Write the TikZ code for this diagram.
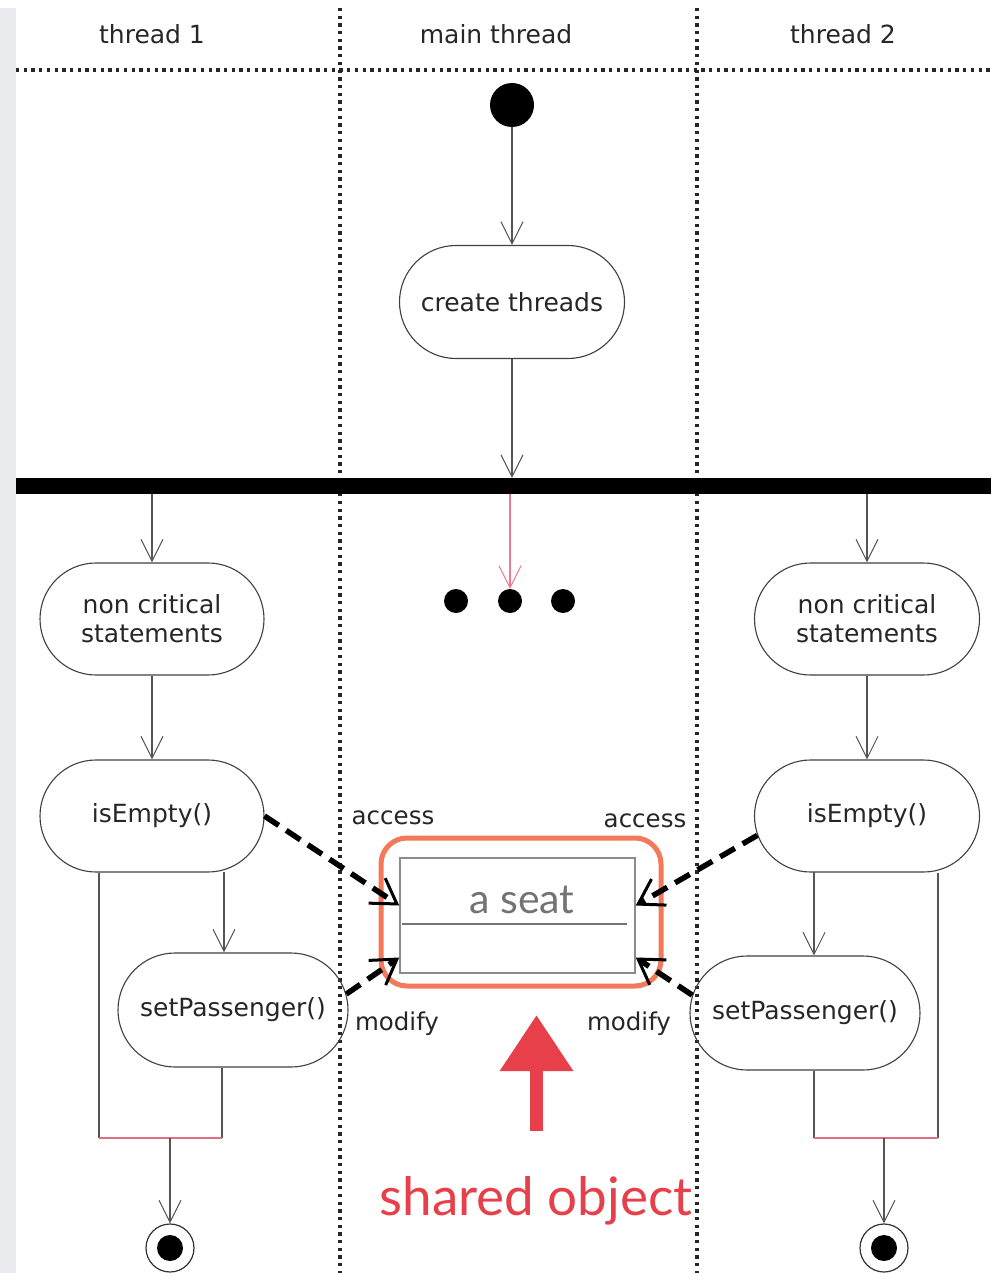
\documentclass[tikz,border=0pt]{standalone}
\usepackage{fontspec}
\setmainfont{DejaVu Sans}
\newfontfamily\gillfont{Lato}
\usetikzlibrary{shapes.misc,arrows.meta,calc}

\definecolor{lanegray}{HTML}{E9EBEE}
\definecolor{edgegray}{HTML}{555555}
\definecolor{coral}{HTML}{F4785A}
\definecolor{alertred}{HTML}{E8404A}
\definecolor{forkpink}{HTML}{F07A8E}
\definecolor{mergepink}{HTML}{E07080}

\tikzset{
  pill/.style={rounded rectangle, draw=black!75, line width=1.1pt, inner sep=0pt,
    minimum width=225pt, minimum height=113pt, align=center,
    font=\fontsize{25}{29}\selectfont, text=black!85},
  vtip/.tip={Straight Barb[length=22pt,width=22pt,line width=1pt]},
  flow/.style={draw=edgegray, line width=1.2pt, -vtip},
  link/.style={draw=edgegray, line width=1.2pt},
  dep/.style={draw=black, line width=5.5pt, dash pattern=on 17pt off 9pt,
    -{Straight Barb[length=24pt,width=30pt,line width=3pt]}},
  lanesep/.style={draw=black!85, line width=3.3pt, dash pattern=on 3.3pt off 4.4pt},
  lbl/.style={font=\fontsize{24.5}{28}\selectfont, text=black!85, inner sep=0pt, anchor=base},
  hdr/.style={font=\fontsize{25}{28}\selectfont, text=black!85, inner sep=0pt, anchor=base},
  dot/.style={circle, fill=black, inner sep=0pt, minimum size=24pt},
  finalnode/.style={circle, draw=black!80, line width=1.2pt, fill=white, inner sep=0pt,
    minimum size=48pt,
    path picture={\fill[black] (path picture bounding box.center) circle (13pt);}},
}

\begin{document}
\begin{tikzpicture}[x=1pt,y=-1pt]
  \useasboundingbox (0,0) rectangle (991,1273);
  \fill[white] (0,0) rectangle (991,1273);
  \fill[lanegray] (0,8) rectangle (16,1273);

  % swimlane separators
  \draw[lanesep] (16,70) -- (991,70);
  \draw[lanesep] (340,8) -- (340,1273);
  \draw[lanesep] (697,8) -- (697,1273);

  % lane headers
  \node[hdr] (h1) at (152,44) {thread 1};
  \node[hdr] (h2) at (496,44) {main thread};
  \node[hdr] (h3) at (843,44) {thread 2};

  % main thread
  \node[circle, fill=black, inner sep=0pt, minimum size=44pt] (init) at (512,105) {};
  \node[pill] (ct) at (512,302) {create threads};
  \node[fill=black, inner sep=0pt, minimum width=975pt, minimum height=16pt] (fork) at (503.5,486) {};
  \node[dot] (d1) at (456,601) {};
  \node[dot] (d2) at (510,601) {};
  \node[dot] (d3) at (563,601) {};

  \draw[flow] (init.south) -- (ct.north);
  \draw[flow] (ct.south) -- (ct.south |- fork.north);
  \draw[forkpink, line width=1.3pt, -vtip] (d2.north |- fork.south) -- (d2.north);

  % thread 1
  \node[pill, minimum width=224pt, minimum height=112pt] (nc1) at (152,619) {non critical\\statements};
  \node[pill, minimum width=224pt, minimum height=112pt] (ie1) at (152,816) {isEmpty()};
  \node[pill, minimum width=230pt, minimum height=114pt] (sp1) at (233,1010) {setPassenger()};
  \node[finalnode] (end1) at (170,1248) {};
  \coordinate (m1L) at (99,1138);
  \coordinate (m1R) at (222,1138);
  \coordinate (m1) at (170,1138);
  \coordinate (b1) at (224,872);

  \draw[flow] (nc1.north |- fork.south) -- (nc1.north);
  \draw[flow] (nc1.south) -- (ie1.north);
  \draw[flow] (b1) -- (b1 |- sp1.north);
  \draw[link] (ie1.south -| m1L) -- (m1L);
  \draw[link] (sp1.south -| m1R) -- (m1R);
  \draw[mergepink, line width=1.2pt] (m1L) -- (m1R);
  \draw[flow] (m1) -- (end1.north);

  % thread 2
  \node[pill, minimum width=225pt, minimum height=112pt] (nc2) at (867,619) {non critical\\statements};
  \node[pill, minimum width=225pt, minimum height=112pt] (ie2) at (867,816) {isEmpty()};
  \node[pill, minimum width=230pt, minimum height=114pt] (sp2) at (805,1013) {setPassenger()};
  \node[finalnode] (end2) at (884,1248) {};
  \coordinate (m2L) at (814,1138);
  \coordinate (m2R) at (938,1138);
  \coordinate (m2) at (884,1138);
  \coordinate (b2) at (814,872);

  \draw[flow] (nc2.north |- fork.south) -- (nc2.north);
  \draw[flow] (nc2.south) -- (ie2.north);
  \draw[flow] (b2) -- (b2 |- sp2.north);
  \draw[link] (sp2.south -| m2L) -- (m2L);
  \draw[link] (ie2.south -| m2R) -- (m2R);
  \draw[mergepink, line width=1.2pt] (m2L) -- (m2R);
  \draw[flow] (m2) -- (end2.north);

  % shared object
  \node[draw=black!45, line width=1.5pt, inner sep=0pt, minimum width=235pt, minimum height=115pt] (seat) at (517.5,915.5) {};
  \draw[black!55, line width=1.2pt] (402,924) -- (627,924);
  \node[font=\gillfont\fontsize{41}{41}\selectfont, text=black!55, inner sep=0pt, anchor=base] (seatname) at (522,913) {a seat};
  \node[draw=coral, line width=5pt, rounded corners=26pt, inner sep=0pt, minimum width=280pt, minimum height=148pt] (hl) at (521,912) {};

  % access / modify dependencies
  \draw[dep] (ie1.east) -- ($(seat.west)+(0,-10)$);
  \draw[dep] (sp1.8) -- ($(seat.west)+(0,42)$);
  \draw[dep] (ie2.190) -- ($(seat.east)+(0,-10)$);
  \draw[dep] (sp2.171) -- ($(seat.east)+(0,42)$);

  \node[lbl] (acc1) at (393,824) {access};
  \node[lbl] (acc2) at (645,827) {access};
  \node[lbl] (mod1) at (397,1030) {modify};
  \node[lbl] (mod2) at (629,1030) {modify};

  % annotation
  \node[font=\gillfont\fontsize{53}{53}\selectfont, text=alertred, inner sep=0pt, anchor=base] (note) at (536,1215) {shared object};
  \coordinate (pt1) at (536.5,1131);
  \coordinate (pt2) at (536.5,1015);
  \draw[alertred, line width=13pt, -{Triangle[length=56pt,width=70pt]}] (pt1) -- (pt2);
\end{tikzpicture}
\end{document}
